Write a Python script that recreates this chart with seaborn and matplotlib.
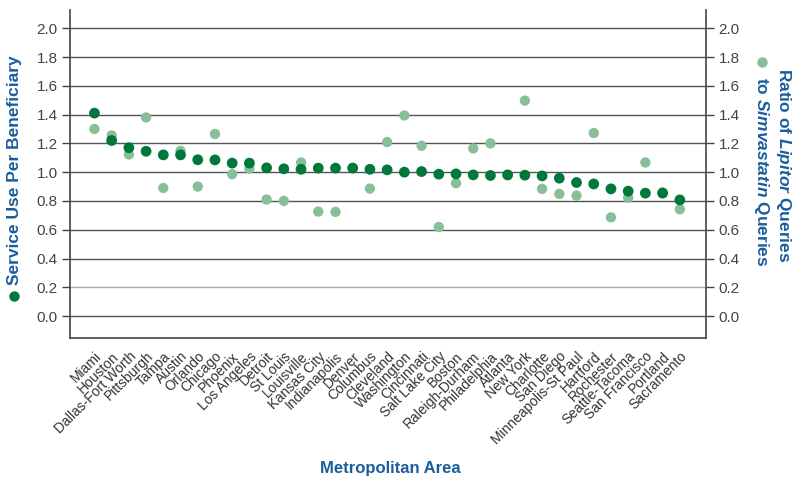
import matplotlib
matplotlib.use("Agg")
import matplotlib.pyplot as plt
from matplotlib.lines import Line2D
import seaborn as sns
import pandas as pd
import numpy as np

cities = ["Miami", "Houston", "Dallas-Fort Worth", "Pittsburgh", "Tampa", "Austin",
          "Orlando", "Chicago", "Phoenix", "Los Angeles", "Detroit", "St Louis",
          "Louisville", "Kansas City", "Indianapolis", "Denver", "Columbus",
          "Cleveland", "Washington", "Cincinnati", "Salt Lake City", "Boston",
          "Raleigh-Durham", "Philadelphia", "Atlanta", "New York", "Charlotte",
          "San Diego", "Minneapolis-St Paul", "Hartford", "Rochester",
          "Seattle-Tacoma", "San Francisco", "Portland", "Sacramento"]

service_use = [1.41, 1.22, 1.17, 1.145, 1.12, 1.12, 1.086, 1.085, 1.063, 1.063,
               1.03, 1.023, 1.02, 1.028, 1.028, 1.028, 1.02, 1.016, 1.00, 1.004,
               0.986, 0.988, 0.981, 0.977, 0.981, 0.979, 0.974, 0.958, 0.928,
               0.918, 0.884, 0.868, 0.854, 0.854, 0.807]

query_ratio = [1.30, 1.255, 1.123, 1.38, 0.89, 1.148, 0.90, 1.265, 0.986, 1.025,
               0.81, 0.80, 1.067, 0.726, 0.724, 1.03, 0.886, 1.209, 1.394, 1.183,
               0.619, 0.923, 1.165, 1.20, 0.98, 1.497, 0.884, 0.849, 0.837,
               1.272, 0.686, 0.823, 1.067, 0.86, 0.742]

yticks = [0.0, 0.2, 0.4, 0.6, 0.8, 1.0, 1.2, 1.4, 1.6, 1.8, 2.0]

DARK = "#00783a"
LIGHT = "#86bf98"
BLUE = "#1a5d9c"
TXT = "#333333"

sns.set_theme(style="white")
plt.rcParams["font.family"] = ["Liberation Sans", "DejaVu Sans"]
plt.rcParams["mathtext.fontset"] = "custom"
plt.rcParams["mathtext.it"] = "Liberation Sans:italic:bold"
plt.rcParams["mathtext.rm"] = "Liberation Sans:bold"

df = pd.DataFrame({"city": cities, "service": service_use, "ratio": query_ratio})
df["x"] = np.arange(len(cities))

fig = plt.figure(figsize=(8, 4.9), dpi=100)
ax = fig.add_axes([0.0875, 0.310, 0.795, 0.670])

for t in yticks:
    ax.axhline(t, color="#aaaaaa" if t == 0.2 else "#555555", lw=1.0, zorder=0)

sns.scatterplot(data=df, x="x", y="ratio", ax=ax, color=LIGHT, s=55,
                edgecolor="none", zorder=2, legend=False)
sns.scatterplot(data=df, x="x", y="service", ax=ax, color=DARK, s=60,
                edgecolor="none", zorder=3, legend=False)

ax.set_xlim(-1.42, 35.52)
ax.set_ylim(-0.153, 2.128)
ax.set_yticks(yticks)
ax.set_yticklabels([f"{t:.1f}" for t in yticks])
ax.set_xticks(df["x"])
ax.set_xticklabels(cities, rotation=45, ha="right", rotation_mode="anchor",
                   fontsize=10, color=TXT)
ax.tick_params(axis="y", which="both", left=True, right=True, labelleft=True,
               labelright=True, direction="out", length=6, width=1,
               color="#444444", labelsize=11, labelcolor="#444444", pad=3)
ax.tick_params(axis="x", bottom=False, pad=2)
for side in ["left", "right", "bottom"]:
    ax.spines[side].set_color("#444444")
    ax.spines[side].set_linewidth(1.2)
ax.spines["top"].set_visible(False)
ax.set_xlabel("")
ax.set_ylabel("")

# Axis titles
fig.text(0.4875, 1 - 468 / 490, "Metropolitan Area", ha="center", va="center",
         fontsize=12, fontweight="bold", color=BLUE)
fig.text(15 / 800, 1 - 170 / 490, "Service Use Per Beneficiary", rotation=90,
         ha="center", va="center", fontsize=12.5, fontweight="bold", color=BLUE)
fig.add_artist(Line2D([14 / 800], [1 - 296 / 490], marker="o", markersize=7.5,
                      color=DARK, markeredgewidth=0, transform=fig.transFigure))

fig.text(783 / 800, 1 - 68 / 490, r"Ratio of $\mathit{Lipitor}$ Queries",
         rotation=270, ha="center", va="top", fontsize=12.5,
         fontweight="bold", color=BLUE)
fig.text(762 / 800, 1 - 77 / 490, r"to $\mathit{Simvastatin}$ Queries",
         rotation=270, ha="center", va="top", fontsize=12.5,
         fontweight="bold", color=BLUE)
fig.add_artist(Line2D([762 / 800], [1 - 62 / 490], marker="o", markersize=7.5,
                      color=LIGHT, markeredgewidth=0, transform=fig.transFigure))

fig.savefig("out.png", dpi=100)
